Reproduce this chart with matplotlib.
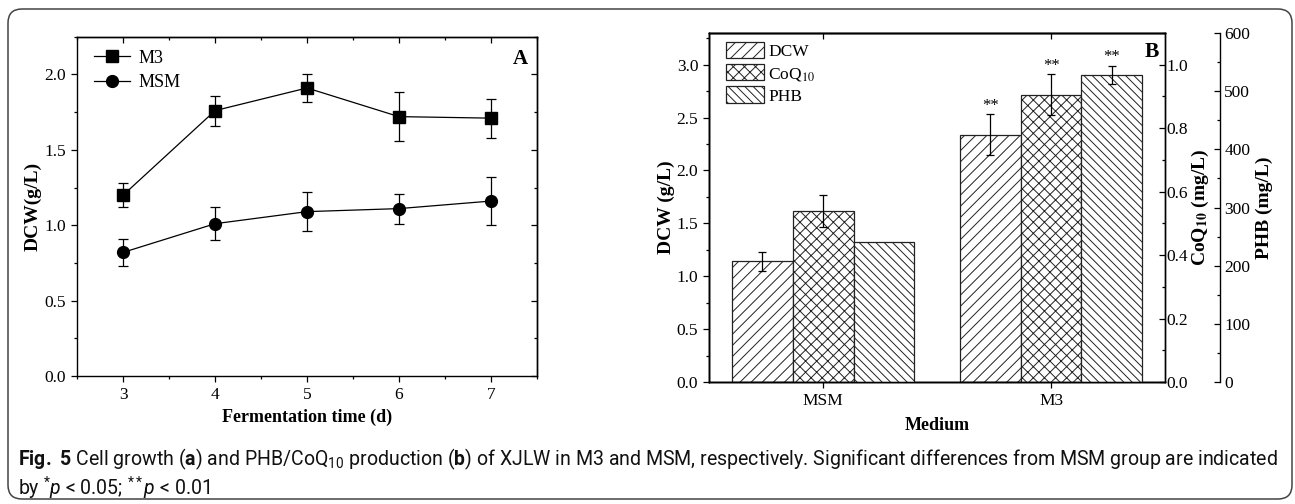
import matplotlib
matplotlib.use("Agg")
import matplotlib.pyplot as plt
import numpy as np
from matplotlib.patches import FancyBboxPatch
from matplotlib.lines import Line2D
from matplotlib.ticker import MultipleLocator, FormatStrFormatter, NullLocator
from matplotlib.transforms import IdentityTransform

# ---------------- data ----------------
days = [3, 4, 5, 6, 7]
m3_dcw = [1.20, 1.76, 1.91, 1.72, 1.71]
m3_err = [0.08, 0.10, 0.09, 0.16, 0.13]
msm_dcw = [0.82, 1.01, 1.09, 1.11, 1.16]
msm_err = [0.09, 0.11, 0.13, 0.10, 0.16]

media = ["MSM", "M3"]
dcw_b = [1.14, 2.34]
dcw_b_err = [0.09, 0.19]
coq10 = [0.54, 0.905]
coq10_err = [0.05, 0.065]
phb = [241, 528]
phb_err = [0, 15]
sig_dcw = ["", "**"]
sig_coq = ["", "**"]
sig_phb = ["", "**"]

# ---------------- style ----------------
plt.rcParams["font.family"] = ["Liberation Serif", "DejaVu Serif"]
plt.rcParams["mathtext.fontset"] = "stix"
plt.rcParams["mathtext.rm"] = "Roboto"
plt.rcParams["mathtext.it"] = "Roboto:italic"
plt.rcParams["mathtext.bf"] = "Roboto:bold"
plt.rcParams["hatch.linewidth"] = 0.7
plt.rcParams["axes.linewidth"] = 1.0

W, H = 1295, 504
fig = plt.figure(figsize=(W / 100, H / 100), dpi=100)

TICK_FS = 12.5
LAB_FS = 13


def px_axes(x0, y0, x1, y1):
    return fig.add_axes([x0 / W, 1 - y1 / H, (x1 - x0) / W, (y1 - y0) / H])


def style_ticks(a, axis, direction, major_len=4.5, minor_len=2.5):
    a.tick_params(axis=axis, which="major", direction=direction, length=major_len,
                  width=0.9, labelsize=TICK_FS)
    a.tick_params(axis=axis, which="minor", direction=direction, length=minor_len,
                  width=0.9)


# ---------------- panel A ----------------
axA = px_axes(77.3, 36.7, 536.7, 376)
axA.errorbar(days, m3_dcw, yerr=m3_err, color="black", marker="s", ms=8,
             lw=0.9, elinewidth=0.9, capsize=3.3, capthick=0.9)
axA.errorbar(days, msm_dcw, yerr=msm_err, color="black", marker="o", ms=8.5,
             lw=0.9, elinewidth=0.9, capsize=3.3, capthick=0.9)
axA.set_xlim(2.5, 7.5)
axA.set_ylim(0, 2.25)
axA.xaxis.set_major_locator(MultipleLocator(1))
axA.xaxis.set_minor_locator(MultipleLocator(0.5))
axA.yaxis.set_major_locator(MultipleLocator(0.5))
axA.yaxis.set_minor_locator(MultipleLocator(0.25))
axA.yaxis.set_major_formatter(FormatStrFormatter("%.1f"))
style_ticks(axA, "x", "out")
style_ticks(axA, "y", "out")
secA_x = axA.secondary_xaxis("top")
secA_x.xaxis.set_major_locator(MultipleLocator(1))
secA_x.xaxis.set_minor_locator(MultipleLocator(0.5))
secA_x.tick_params(which="both", direction="in", labeltop=False, width=0.9)
secA_x.tick_params(which="major", length=4.5)
secA_x.tick_params(which="minor", length=2.5)
secA_y = axA.secondary_yaxis("right")
secA_y.yaxis.set_major_locator(MultipleLocator(0.5))
secA_y.yaxis.set_minor_locator(MultipleLocator(0.25))
secA_y.tick_params(which="both", direction="in", labelright=False, width=0.9)
secA_y.tick_params(which="major", length=4.5)
secA_y.tick_params(which="minor", length=2.5)
axA.set_xlabel("Fermentation time (d)", fontsize=LAB_FS, fontweight="bold", labelpad=4)
axA.set_ylabel("DCW(g/L)", fontsize=LAB_FS + 1, fontweight="bold", labelpad=2)
handlesA = [Line2D([], [], color="black", marker="s", ms=8, lw=0.9),
            Line2D([], [], color="black", marker="o", ms=8.5, lw=0.9)]
legA = axA.legend(handlesA, ["M3", "MSM"], loc="upper left",
                  bbox_to_anchor=(0.036, 0.962), frameon=False,
                  fontsize=13, handlelength=2.0, handletextpad=0.45,
                  labelspacing=0.42, borderpad=0, borderaxespad=0)
axA.text(0.964, 0.933, "A", transform=axA.transAxes, fontsize=15,
         fontweight="bold", ha="center", va="center")

# ---------------- panel B ----------------
axB = px_axes(709.3, 33, 1165, 382)
axB2 = axB.twinx()
axB3 = axB.twinx()
axB3.spines["right"].set_position(("axes", 1 + 55 / 455.7))

x = np.arange(1, len(media) + 1)
w = 0.8 / 3
ec = "#222222"
b1 = axB.bar(x - w, dcw_b, w, facecolor="white", edgecolor=ec, hatch="///",
             linewidth=0.9, label="DCW")
b2 = axB2.bar(x, coq10, w, facecolor="white", edgecolor=ec, hatch="xxx",
              linewidth=0.9, label="CoQ$_{10}$")
b3 = axB3.bar(x + w, phb, w, facecolor="white", edgecolor=ec, hatch="\\\\\\\\",
              linewidth=0.9, label="PHB")

for a, xs, vals, errs, sigs in [(axB, x - w, dcw_b, dcw_b_err, sig_dcw),
                               (axB2, x, coq10, coq10_err, sig_coq),
                               (axB3, x + w, phb, phb_err, sig_phb)]:
    for xi, v, e, s in zip(xs, vals, errs, sigs):
        if e > 0:
            a.errorbar([xi], [v], yerr=[e], fmt="none", ecolor="black",
                       elinewidth=0.9, capsize=2.6, capthick=0.9)
        if s:
            a.annotate(s, (xi, v + e), xytext=(0, 0.5), textcoords="offset points",
                       ha="center", va="bottom", fontsize=12)

axB.set_xlim(0.5, 2.5)
axB.set_ylim(0, 3.3)
axB2.set_ylim(0, 1.1)
axB3.set_ylim(0, 600)
axB.set_xticks(x)
axB.set_xticklabels(media)
axB.xaxis.set_minor_locator(NullLocator())
axB.yaxis.set_major_locator(MultipleLocator(0.5))
axB.yaxis.set_minor_locator(MultipleLocator(0.25))
axB.yaxis.set_major_formatter(FormatStrFormatter("%.1f"))
axB2.yaxis.set_major_locator(MultipleLocator(0.2))
axB2.yaxis.set_minor_locator(MultipleLocator(0.1))
axB2.yaxis.set_major_formatter(FormatStrFormatter("%.1f"))
axB3.yaxis.set_major_locator(MultipleLocator(100))
axB3.yaxis.set_minor_locator(MultipleLocator(50))
style_ticks(axB, "x", "out")
style_ticks(axB, "y", "out")
style_ticks(axB2, "y", "in")
style_ticks(axB3, "y", "in")
axB2.tick_params(axis="y", which="major", pad=1)
axB3.tick_params(axis="y", which="major", pad=3)
secB_x = axB.secondary_xaxis("top")
secB_x.set_xticks(x)
secB_x.tick_params(which="both", direction="in", labeltop=False, width=0.9, length=4.5)
secB_x.xaxis.set_minor_locator(NullLocator())

axB.set_xlabel("Medium", fontsize=LAB_FS, fontweight="bold", labelpad=6)
axB.set_ylabel("DCW (g/L)", fontsize=LAB_FS + 1, fontweight="bold", labelpad=1)
axB2.set_ylabel(r"CoQ$_{\mathbf{10}}$ (mg/L)", fontsize=LAB_FS + 1,
                fontweight="bold", labelpad=1)
axB3.set_ylabel("PHB (mg/L)", fontsize=LAB_FS + 1, fontweight="bold", labelpad=4)

legB = axB3.legend(handles=[b1, b2, b3], loc="upper left",
                   bbox_to_anchor=(0.036, 0.975), frameon=False, fontsize=12.5,
                   handlelength=2.2, handleheight=1.1, handletextpad=0.25,
                   labelspacing=0.22, borderpad=0, borderaxespad=0)
axB3.text(0.971, 0.946, "B", transform=axB.transAxes, fontsize=15.5,
          fontweight="bold", ha="center", va="center")

# ---------------- caption & frame ----------------
frame = FancyBboxPatch((8, 5), 1284, 490, boxstyle="round,pad=0,rounding_size=14",
                       transform=IdentityTransform(), facecolor="none",
                       edgecolor="#444444", linewidth=1.1)
fig.patches.append(frame)

cap_family = ["Roboto", "DejaVu Sans"]
line1 = (r"$\mathbf{Fig.\ 5}$ Cell growth ($\mathbf{a}$) and PHB/CoQ$_{10}$ production "
         r"($\mathbf{b}$) of XJLW in M3 and MSM, respectively. Significant differences "
         r"from MSM group are indicated")
line2 = r"by $^{*}$$p$ < 0.05; $^{**}$$p$ < 0.01"
t1 = fig.text(18 / W, 1 - 459.6 / H, line1, fontsize=13, family=cap_family,
              ha="left", va="center", math_fontfamily="custom", color="#111111")
t2 = fig.text(18 / W, 1 - 488.5 / H, line2, fontsize=13, family=cap_family,
              ha="left", va="center", math_fontfamily="custom", color="#111111")
fig.canvas.draw()
wpx = t1.get_window_extent().width
fs = 13 * 1259 / wpx
t1.set_fontsize(fs)
t2.set_fontsize(fs)

fig.savefig("out.png", dpi=100)
